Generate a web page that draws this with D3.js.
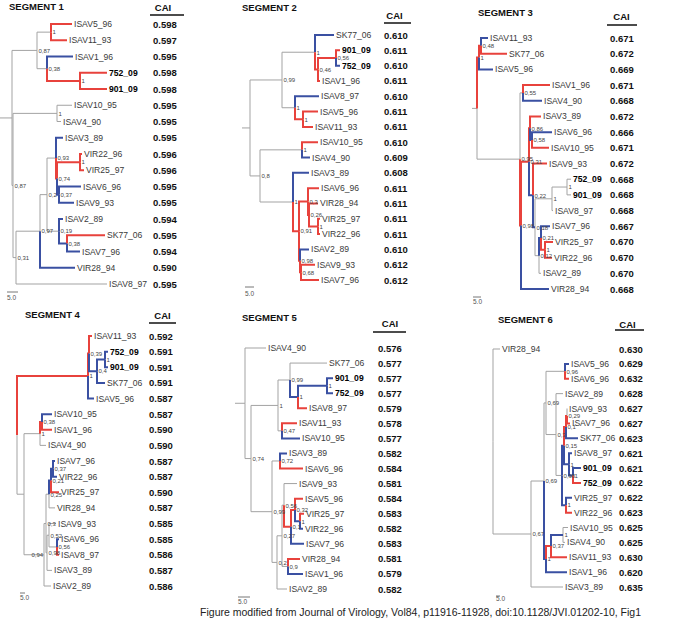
<!DOCTYPE html>
<html><head><meta charset="utf-8">
<script src="https://cdn.jsdelivr.net/npm/d3@7"></script>
<style>body{margin:0;background:#fff}svg{display:block}</style>
</head><body>
<script>
// ---------------- DATA ----------------
const titles = ["SEGMENT 1","SEGMENT 2","SEGMENT 3","SEGMENT 4","SEGMENT 5","SEGMENT 6"];

const seg1Leaves = ["ISAV5_96","ISAV11_93","ISAV1_96","752_09","901_09","ISAV10_95","ISAV4_90","ISAV3_89","VIR22_96","VIR25_97","ISAV6_96","ISAV9_93","ISAV2_89","SK77_06","ISAV7_96","VIR28_94","ISAV8_97"];
const seg1CAI = [0.598,0.597,0.595,0.598,0.598,0.595,0.595,0.595,0.596,0.596,0.595,0.595,0.594,0.595,0.594,0.590,0.595];
const seg2Leaves = ["SK77_06","901_09","752_09","ISAV1_96","ISAV8_97","ISAV5_96","ISAV11_93","ISAV10_95","ISAV4_90","ISAV3_89","ISAV6_96","VIR28_94","VIR25_97","VIR22_96","ISAV2_89","ISAV9_93","ISAV7_96"];
const seg2CAI = [0.610,0.611,0.610,0.611,0.610,0.611,0.611,0.610,0.609,0.608,0.611,0.611,0.611,0.611,0.610,0.612,0.612];
const seg3Leaves = ["ISAV11_93","SK77_06","ISAV5_96","ISAV1_96","ISAV4_90","ISAV3_89","ISAV6_96","ISAV10_95","ISAV9_93","752_09","901_09","ISAV8_97","ISAV7_96","VIR25_97","VIR22_96","ISAV2_89","VIR28_94"];
const seg3CAI = [0.671,0.672,0.669,0.671,0.668,0.672,0.666,0.671,0.672,0.668,0.668,0.668,0.667,0.670,0.670,0.670,0.668];
const seg4Leaves = ["ISAV11_93","752_09","901_09","SK77_06","ISAV5_96","ISAV10_95","ISAV1_96","ISAV4_90","ISAV7_96","VIR22_96","VIR25_97","VIR28_94","ISAV9_93","ISAV6_96","ISAV8_97","ISAV3_89","ISAV2_89"];
const seg4CAI = [0.592,0.591,0.591,0.591,0.587,0.587,0.590,0.590,0.587,0.587,0.590,0.587,0.585,0.585,0.586,0.587,0.586];
const seg5Leaves = ["ISAV4_90","SK77_06","901_09","752_09","ISAV8_97","ISAV11_93","ISAV10_95","ISAV3_89","ISAV6_96","ISAV9_93","ISAV5_96","VIR25_97","VIR22_96","ISAV7_96","VIR28_94","ISAV1_96","ISAV2_89"];
const seg5CAI = [0.576,0.577,0.577,0.577,0.579,0.578,0.577,0.582,0.584,0.581,0.584,0.583,0.582,0.583,0.581,0.579,0.582];
const seg6Leaves = ["VIR28_94","ISAV5_96","ISAV6_96","ISAV2_89","ISAV9_93","ISAV7_96","SK77_06","ISAV8_97","901_09","752_09","VIR25_97","VIR22_96","ISAV10_95","ISAV4_90","ISAV11_93","ISAV1_96","ISAV3_89"];
const seg6CAI = [0.630,0.629,0.632,0.628,0.627,0.627,0.623,0.621,0.621,0.622,0.622,0.623,0.625,0.625,0.630,0.620,0.635];

// Trees (Newick: branch length, [colour group] r=red b=blue g=grey, support value as node label)
const seg1Tree = `(((ISAV5_96:21[r],ISAV11_93:16[r])1:14[g],(ISAV1_96:26[b],(752_09:27[r],901_09:27[r])1:33[r])0.38:10[g])0.87:25[g],
((ISAV10_95:15[g],ISAV4_90:4[g])1:44[g],((((ISAV3_89:7[b],((VIR22_96:2[r],VIR25_97:4[r])1:23[r],(ISAV6_96:22[b],ISAV9_93:15[b])0.37:2[b])0.74:1[r])0.93:9[g],
(ISAV2_89:4[b],(SK77_06:38[r],ISAV7_96:13[b])0.38:8[b])0.19:12[g])0.2:7[g],VIR28_94:35[b])0.97:24[g],ISAV8_97:91[g])0.31:3[g])0.87:1[g]):12`;
const seg2Tree = `(((SK77_06:19[b],((901_09:4[r],752_09:4[b])0.56:18[r],ISAV1_96:2[r])0.46:3[r])1:33[g],(ISAV8_97:24[b],(ISAV5_96:15[r],ISAV11_93:10[r])1:8[r])1:13[g])0.99:32[g],
((ISAV10_95:16[r],ISAV4_90:8[b])1:42[g],(ISAV3_89:16[b],((ISAV6_96:11[r],(VIR28_94:9[r],(VIR25_97:2[r],VIR22_96:2[r])1:9[r])0.26:1[r])0.3:9[r],
(ISAV2_89:9[b],(ISAV9_93:14[r],ISAV7_96:18[r])0.68:1[r])0.98:1[r])0.91:6[r])1:33[g])0.8:10[g]):8`;
const seg3Tree = `(((ISAV11_93:7[b],SK77_06:26[r])0.48:2[r],ISAV5_96:14[b])1:2[r],
((ISAV1_96:27[r],ISAV4_90:19[b])0.55:3[g],(((ISAV3_89:11[r],(ISAV6_96:20[b],ISAV10_95:17[r])0.58:2[b])0.86:1[r],
(ISAV9_93:14[r],(((752_09:4[g],901_09:4[g])1:15[g],ISAV8_97:1[g])1:17[g],((ISAV7_96:9[b],(VIR25_97:8[r],VIR22_96:7[r])1:4[r])0.21:2[b],ISAV2_89:2[g])0.12:4[g])0.18:2[b])0.22:4[b])0.31:8[r],
VIR28_94:28[b])0.98:1[r])0.95:43[g]):5`;
const seg4Tree = `(((ISAV11_93:3[r],((752_09:3[b],901_09:3[b])1:8[b],SK77_06:8[b])0.4:8[b])0.39:1[r],ISAV5_96:6[b])1:71[r],
(((ISAV10_95:10[b],ISAV1_96:10[r])0.38:2[r],ISAV4_90:6[g])1:16[g],((((((ISAV7_96:2[b],VIR22_96:4[b])0.37:2[b],VIR25_97:8[r])0.21:2[b],VIR28_94:6[g])0.25:3[g],
((ISAV9_93:7[g],(ISAV6_96:2[b],ISAV8_97:2[r])0.56:8[g])0.52:2[g],ISAV3_89:5[g])0.98:1[g])0.3:2[g],ISAV2_89:7[g]):14[g])0.94:6[g]):7`;
const seg5Tree = `(ISAV4_90:21[g],(((SK77_06:37[g],((901_09:6[b],752_09:6[b])1:29[b],ISAV8_97:9[r])1:8[b])0.99:12[g],(ISAV11_93:15[r],ISAV10_95:18[b])0.47:4[g])1:27[g],
((ISAV3_89:7[b],ISAV6_96:23[r])0.72:8[g],(((ISAV9_93:13[g],((ISAV5_96:8[r],(VIR25_97:4[r],VIR22_96:3[b])1:5[b])0.32:4[r],ISAV7_96:13[b])0.1:7[r])0.56:2[g],
(VIR28_94:12[r],ISAV1_96:15[b])0.9:6[g])0.27:5[g],ISAV2_89:10[g])0.2:5[g])0.99:21[g])0.74:6[g]):10`;
const seg6Tree = `(VIR28_94:7[g],(((((ISAV5_96:4[b],ISAV6_96:4[r])0.96:19[g],(ISAV2_89:7[g],((((ISAV9_93:0[g],ISAV7_96:3[r])0.29:1[r],SK77_06:12[b])0.1:2[r],
(ISAV8_97:3[b],(901_09:8[b],752_09:8[r])1:4[b])1:5[b])0.15:2[b],(VIR25_97:6[b],VIR22_96:6[r])1:4[b])0.98:6[g])0.3:10[g])0.69:2[g],
(((ISAV10_95:5[g],ISAV4_90:2[g])1:12[b],ISAV11_93:16[r])0.37:5[r],ISAV1_96:21[b])1:2[b])0.69:13[g],ISAV3_89:32[g])0.67:31[g]):7`;

const scaleBarLabel = "5.0";
const scaleBarUnits = [11, 9, 8, 5, 12, 4];
const highlighted = ["752_09","901_09"];
const footer = "Figure modified from Journal of Virology, Vol84, p11916-11928, doi:10.1128/JVI.01202-10, Fig1";

const trees = [seg1Tree,seg2Tree,seg3Tree,seg4Tree,seg5Tree,seg6Tree];
const leaves = [seg1Leaves,seg2Leaves,seg3Leaves,seg4Leaves,seg5Leaves,seg6Leaves];
const cais = [seg1CAI,seg2CAI,seg3CAI,seg4CAI,seg5CAI,seg6CAI];

// ---------------- LAYOUT ----------------
const layout = [
  {sx:0,   y0:24,  y1:284, caiX:153, tx:9,   ty:10,  hx:163,   hy:11,  u0:150, u1:184, uy:15,  sbx:7,   sby:292, sbl:300},
  {sx:242, y0:35,  y1:280, caiX:384, tx:242, ty:11,  hx:394.5, hy:19,  u0:384, u1:411, uy:23,  sbx:245, sby:287, sbl:296},
  {sx:472, y0:38,  y1:289, caiX:610, tx:478, ty:16,  hx:621.5, hy:20,  u0:607, u1:637, uy:25,  sbx:473, sby:297, sbl:304},
  {sx:17,  y0:336, y1:586, caiX:149, tx:25,  ty:318, hx:162.5, hy:319, u0:149, u1:176, uy:323, sbx:20,  sby:593, sbl:600},
  {sx:235, y0:348, y1:589, caiX:378, tx:242, ty:321, hx:390,   hy:327, u0:373, u1:406, uy:332, sbx:238, sby:597, sbl:604},
  {sx:493, y0:349, y1:587, caiX:619, tx:498, ty:323, hx:627.5, hy:328, u0:615, u1:644, uy:330, sbx:496, sby:596, sbl:601}
];
const colour = {r:"#e8423c", b:"#3a50a2", g:"#a3a3a3"};
const width = {r:2, b:2, g:1};
const font = "Liberation Sans, Arial, Helvetica, sans-serif";

function parseNewick(str){
  const s = str.replace(/\s+/g,"");
  let i = 0;
  function node(){
    const n = {children:[], len:0, col:"g", name:""};
    if (s[i] === "("){
      i++;
      n.children.push(node());
      while (s[i] === ","){ i++; n.children.push(node()); }
      i++;
    }
    let name = "";
    while (i < s.length && !":,)[(".includes(s[i])) name += s[i++];
    n.name = name;
    if (s[i] === ":"){ i++; let num=""; while (i < s.length && /[0-9.\-]/.test(s[i])) num += s[i++]; n.len = +num; }
    if (s[i] === "["){ i++; n.col = s[i++]; i++; }
    return n;
  }
  return node();
}

const svg = d3.select("body").append("svg").attr("width",685).attr("height",630)
  .style("font-family", font);
svg.append("rect").attr("width",685).attr("height",630).attr("fill","#fff");

const fmt = d3.format(".3f");

trees.forEach((nw, k) => {
  const L = layout[k];
  const g = svg.append("g");
  const root = d3.hierarchy(parseNewick(nw), d => d.children.length ? d.children : null);
  root.eachBefore(d => d.dist = (d.parent ? d.parent.dist : 0) + d.data.len);
  const x = d3.scaleLinear().domain([0, 100]).range([L.sx, L.sx + 100]);
  const y = d3.scalePoint().domain(leaves[k]).range([L.y0, L.y1]);
  root.eachAfter(d => {
    d.px = x(d.dist);
    d.py = d.children ? (d.children[0].py + d.children[d.children.length-1].py) / 2 : y(d.data.name);
  });

  // root stub
  g.append("path").attr("d", `M${x(0)},${root.py}H${root.px}`)
    .attr("stroke", colour[root.data.col]).attr("stroke-width", width[root.data.col]).attr("fill","none");

  const links = root.descendants().filter(d => d.parent)
    .sort((a,b) => (a.data.col === "g" ? 0 : 1) - (b.data.col === "g" ? 0 : 1));
  g.selectAll("path.br").data(links).join("path").attr("class","br")
    .attr("d", d => `M${d.parent.px},${d.parent.py}V${d.py}H${d.px}`)
    .attr("fill","none")
    .attr("stroke", d => colour[d.data.col])
    .attr("stroke-width", d => width[d.data.col]);

  // support values
  g.selectAll("text.bs").data(root.descendants().filter(d => d.children && d.data.name !== "" && d.parent))
    .join("text").attr("class","bs")
    .attr("x", d => d.px + 1.5).attr("y", d => d.py + 2.3)
    .attr("font-size", 6).attr("fill", "#444")
    .text(d => d.data.name.replace(".", ","));

  // leaf names
  g.selectAll("text.lf").data(root.leaves()).join("text").attr("class","lf")
    .attr("x", d => d.px + 2).attr("y", d => d.py + 3)
    .attr("font-size", 8.6)
    .attr("font-weight", d => highlighted.includes(d.data.name) ? "bold" : "normal")
    .attr("fill", d => highlighted.includes(d.data.name) ? "#000" : "#3a3a3a")
    .text(d => d.data.name);

  // CAI column
  g.append("text").attr("x", L.hx).attr("y", L.hy).attr("text-anchor","middle")
    .attr("font-size", 9.5).attr("font-weight","bold").attr("fill","#111").text("CAI");
  g.append("line").attr("x1", L.u0).attr("x2", L.u1).attr("y1", L.uy).attr("y2", L.uy)
    .attr("stroke","#111").attr("stroke-width",1.5);
  g.selectAll("text.cai").data(leaves[k]).join("text").attr("class","cai")
    .attr("x", L.caiX).attr("y", (d,i) => y(d) + 3.5)
    .attr("font-size", 9.5).attr("font-weight","bold").attr("fill","#111")
    .text((d,i) => fmt(cais[k][i]));

  // title
  g.append("text").attr("x", L.tx).attr("y", L.ty).attr("font-size", 9.5)
    .attr("font-weight","bold").attr("fill","#111").text(titles[k]);

  // scale bar
  g.append("line").attr("x1", L.sbx).attr("x2", L.sbx + x(scaleBarUnits[k]) - x(0))
    .attr("y1", L.sby).attr("y2", L.sby).attr("stroke","#777").attr("stroke-width",1);
  g.append("text").attr("x", L.sbx).attr("y", L.sbl).attr("font-size", 6.5)
    .attr("fill","#555").text(scaleBarLabel);
});

svg.append("text").attr("x", 641).attr("y", 616).attr("text-anchor","end")
  .attr("font-size", 10.5).attr("fill","#222").text(footer);
</script>
</body></html>
